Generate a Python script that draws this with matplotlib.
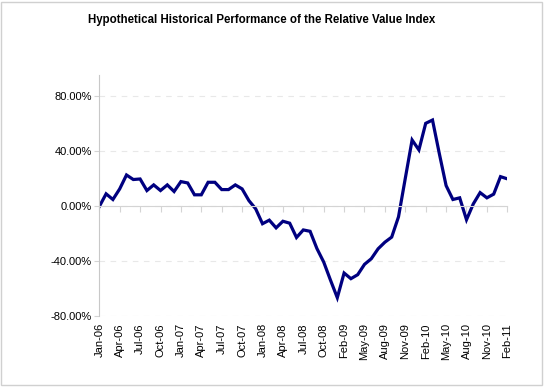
import matplotlib
matplotlib.use("Agg")
import matplotlib.pyplot as plt
from matplotlib.patches import Rectangle
from matplotlib.ticker import FuncFormatter
import pandas as pd

plt.rcParams['font.family'] = ['Liberation Sans', 'DejaVu Sans']

# monthly categories, Jan-09 is not in the series
months = [d.strftime('%b-%y') for d in pd.date_range('2006-01-01', '2011-02-01', freq='MS')]
months.remove('Jan-09')

# index performance, percent
perf = [-0.5, 8.7, 4.6, 12.3, 22.4, 19.1, 19.5, 11.1, 15.2, 11.1,
        15.2, 10.4, 17.6, 16.6, 8.0, 8.0, 17.1, 17.1, 11.8, 11.8,
        15.2, 12.3, 3.8, -2.2, -13.0, -10.4, -16.0, -11.2, -12.6, -23.0,
        -17.5, -18.5, -31.0, -40.8, -54.0, -66.7, -48.8, -52.9, -50.0, -42.5,
        -38.4, -31.2, -26.4, -22.7, -8.0, 20.0, 47.8, 40.6, 59.9, 62.3,
        38.0, 14.7, 4.6, 5.8, -10.1, 1.4, 9.6, 5.8, 8.5, 21.2,
        19.6]

y_ticks = [-0.8, -0.4, 0.0, 0.4, 0.8]
title = "Hypothetical Historical Performance of the Relative Value Index"

fig = plt.figure(figsize=(5.44, 3.87), dpi=100)
ax = fig.add_axes([99.3 / 544, 1 - 316 / 387, (507.3 - 99.3) / 544, (316 - 75) / 387])

x = list(range(len(perf)))
ax.plot(x, [v / 100 for v in perf], color='#000080', lw=2.3, solid_joinstyle='miter')

# x axis sits on the zero line, labels stay under the plot
for s in ['top', 'right']:
    ax.spines[s].set_visible(False)
ax.spines['bottom'].set_position(('data', 0))
ax.spines['bottom'].set_color('#d4d4d4')
ax.spines['left'].set_color('#c8c8c8')

ax.set_xlim(0, len(perf) - 1)
ax.set_ylim(-0.8, 0.95)

ax.set_yticks(y_ticks)
ax.yaxis.set_major_formatter(FuncFormatter(lambda v, p: f"{v:.2%}"))
ax.yaxis.grid(True, linestyle=(0, (5, 5)), color='#e8e8e8', lw=0.8)
ax.set_axisbelow(True)

ax.set_xticks(x[::3])
ax.set_xticklabels(months[::3])

ax.tick_params(axis='x', direction='out', length=4, color='#d4d4d4',
               labelsize=8, labelrotation=90, pad=80.5)
ax.tick_params(axis='y', direction='out', length=3.5, color='#d4d4d4',
               labelsize=8, pad=2)

fig.text(262 / 544, 1 - 20 / 387, title, ha='center', va='center',
         fontsize=8.3, fontweight='bold')

fig.add_artist(Rectangle((0.002, 0.004), 0.994, 0.992, transform=fig.transFigure,
                         fill=False, edgecolor='#d0d0d0', lw=1))

fig.savefig('out.png', dpi=100)
